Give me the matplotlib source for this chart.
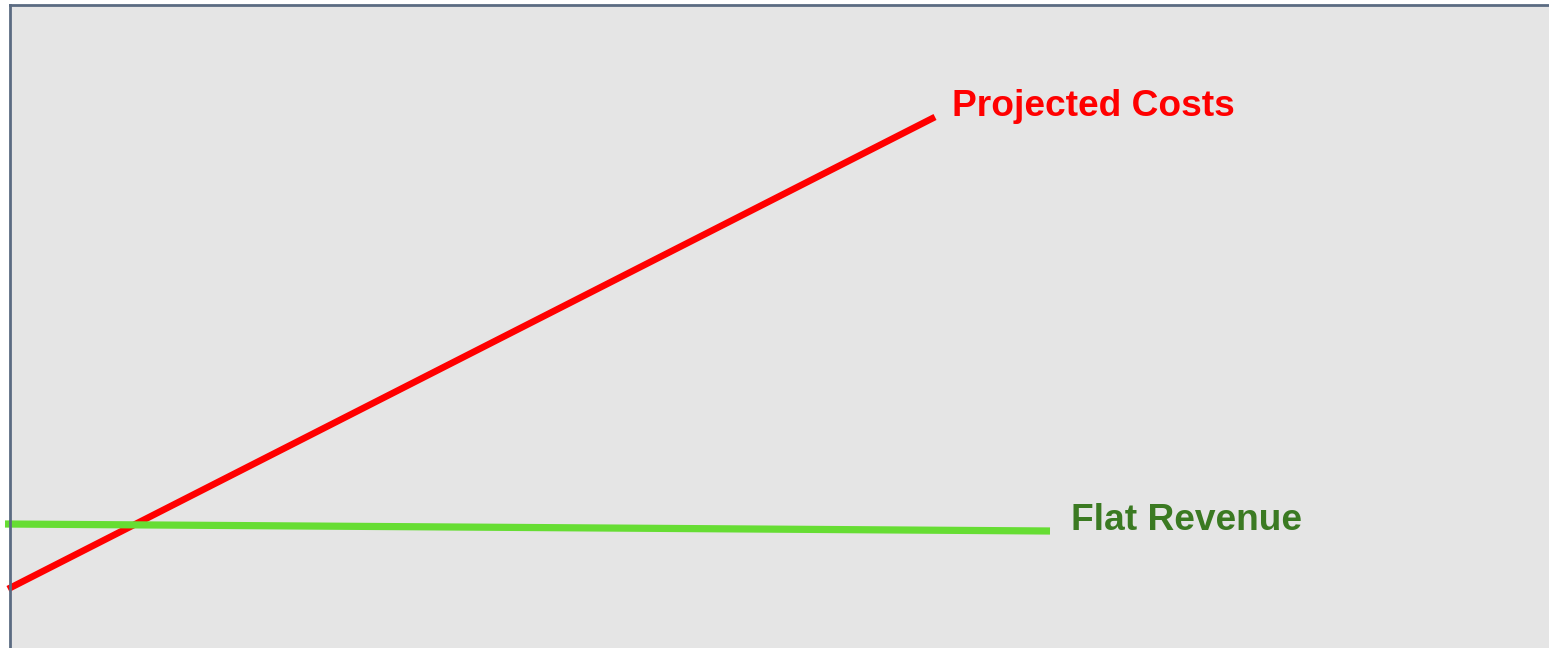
import matplotlib.pyplot as plt

# two trend lines: costs climbing, revenue staying flat
cost_x = [-2, 925]
cost_y = [59, 531]
revenue_x = [-5, 1040]
revenue_y = [124, 117]

labels = ['Projected Costs', 'Flat Revenue']

fig = plt.figure(figsize=(15.49, 6.48), dpi=100)
ax = fig.add_axes([10 / 1549, 0, 1 - 10 / 1549, 643 / 648])
ax.set_facecolor('#e5e5e5')
ax.set_xlim(0, 1539)
ax.set_ylim(0, 643)

ax.plot(cost_x, cost_y, color='#ff0000', linewidth=4.8,
        solid_capstyle='butt', clip_on=False)
ax.plot(revenue_x, revenue_y, color='#66dd33', linewidth=5.2,
        solid_capstyle='butt', clip_on=False)

ax.text(942, 541, labels[0], color='#ff0000', fontsize=26.7,
        fontweight='bold', family='Liberation Sans', va='center', ha='left')
ax.text(1061, 128, labels[1], color='#3b7a22', fontsize=26.7,
        fontweight='bold', family='Liberation Sans', va='center', ha='left')

ax.set_xticks([])
ax.set_yticks([])
for side in ['right', 'bottom']:
    ax.spines[side].set_visible(False)
for side in ['left', 'top']:
    ax.spines[side].set_color('#5b6b82')
    ax.spines[side].set_linewidth(2.0)

plt.savefig('out.png', dpi=100)
